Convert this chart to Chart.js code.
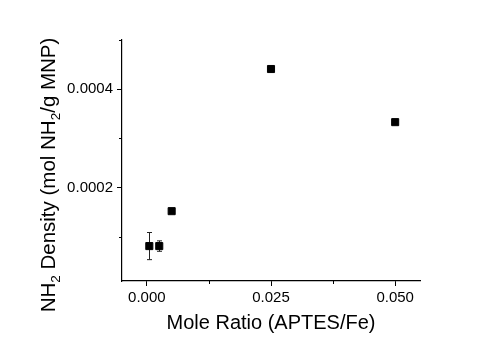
<!DOCTYPE html>
<html>
<head>
<meta charset="utf-8">
<script src="https://cdn.jsdelivr.net/npm/chart.js@4"></script>
<style>
  html, body { margin: 0; padding: 0; background: #fff; }
  #wrap { width: 500px; height: 344px; }
</style>
</head>
<body>
<div id="wrap"><canvas id="nh2-chart" width="500" height="344"></canvas></div>
<script>
// Data
const moleRatio = [0.0005, 0.0025, 0.005, 0.025, 0.05];
const nh2Density = [0.000081, 0.000081, 0.000152, 0.000441, 0.000333];
const nh2Error = [0.0000276, 0.0000106, 0, 0.000002, 0];

// Ticks (major ones get labels, the rest are minor)
const xTicks = [0, 0.0125, 0.025, 0.0375, 0.05];
const xMajor = [0, 0.025, 0.05];
const yTicks = [0.0001, 0.0002, 0.0003, 0.0004, 0.0005];
const yMajor = [0.0002, 0.0004];

const FONT = "'Liberation Sans', Arial, sans-serif";

function isMajor(list, v) {
    return list.some(m => Math.abs(m - v) < 1e-9);
}

// Error bars, drawn behind the square markers
const errorBars = {
    id: 'errorBars',
    beforeDatasetsDraw(chart) {
        const ctx = chart.ctx;
        const xs = chart.scales.x, ys = chart.scales.y;
        ctx.save();
        ctx.strokeStyle = '#222';
        ctx.lineWidth = 1;
        moleRatio.forEach((xv, i) => {
            if (!nh2Error[i]) return;
            const px = Math.round(xs.getPixelForValue(xv)) + 0.5;
            const top = ys.getPixelForValue(nh2Density[i] + nh2Error[i]);
            const bot = ys.getPixelForValue(nh2Density[i] - nh2Error[i]);
            ctx.beginPath();
            ctx.moveTo(px, top); ctx.lineTo(px, bot);
            ctx.moveTo(px - 2.5, top); ctx.lineTo(px + 2.5, top);
            ctx.moveTo(px - 2.5, bot); ctx.lineTo(px + 2.5, bot);
            ctx.stroke();
        });
        ctx.restore();
    }
};

// Short minor tick marks + y title with subscripts
const axisExtras = {
    id: 'axisExtras',
    afterDraw(chart) {
        const ctx = chart.ctx;
        const xs = chart.scales.x, ys = chart.scales.y;
        const area = chart.chartArea;
        ctx.save();
        ctx.strokeStyle = '#000';
        ctx.lineWidth = 1;
        ctx.beginPath();
        xTicks.filter(v => !isMajor(xMajor, v)).forEach(v => {
            const px = Math.round(xs.getPixelForValue(v)) + 0.5;
            ctx.moveTo(px, area.bottom); ctx.lineTo(px, area.bottom + 3);
        });
        yTicks.filter(v => !isMajor(yMajor, v)).forEach(v => {
            const py = Math.round(ys.getPixelForValue(v)) + 0.5;
            ctx.moveTo(area.left, py); ctx.lineTo(area.left - 3, py);
        });
        ctx.stroke();

        // y axis title: NH2 Density (mol NH2/g MNP)
        const parts = [
            ['NH', false], ['2', true], [' Density (mol NH', false], ['2', true], ['/g MNP)', false]
        ];
        const big = '20.5px ' + FONT, small = '13.5px ' + FONT;
        let total = 0;
        parts.forEach(p => { ctx.font = p[1] ? small : big; total += ctx.measureText(p[0]).width; });
        ctx.translate(55, 175);
        ctx.rotate(-Math.PI / 2);
        ctx.fillStyle = '#000';
        ctx.textBaseline = 'alphabetic';
        ctx.textAlign = 'left';
        let x = -total / 2;
        parts.forEach(p => {
            ctx.font = p[1] ? small : big;
            ctx.fillText(p[0], x, p[1] ? 4.5 : 0);
            x += ctx.measureText(p[0]).width;
        });
        ctx.restore();
    }
};

new Chart(document.getElementById('nh2-chart').getContext('2d'), {
    type: 'scatter',
    data: {
        datasets: [{
            label: 'NH2 density',
            data: moleRatio.map((x, i) => ({ x: x, y: nh2Density[i] })),
            pointStyle: 'rect',
            radius: 5,
            backgroundColor: '#000',
            borderColor: '#000',
            borderWidth: 1
        }]
    },
    options: {
        responsive: false,
        animation: false,
        devicePixelRatio: 1,
        layout: { padding: { top: 40, right: 80, left: 0, bottom: 0 } },
        plugins: { legend: { display: false }, tooltip: { enabled: false } },
        scales: {
            x: {
                type: 'linear',
                min: -0.005,
                max: 0.055,
                afterBuildTicks: s => { s.ticks = xTicks.map(v => ({ value: v })); },
                afterFit: s => { s.height = 63; },
                ticks: {
                    autoSkip: false,
                    maxRotation: 0,
                    padding: 3,
                    color: '#000',
                    font: { family: FONT, size: 15 },
                    callback: v => isMajor(xMajor, v) ? v.toFixed(3) : ''
                },
                grid: {
                    drawOnChartArea: false,
                    tickLength: 5,
                    tickColor: c => isMajor(xMajor, c.tick.value) ? '#000' : 'rgba(0,0,0,0)'
                },
                border: { color: '#000', width: 1.2 },
                title: {
                    display: true,
                    text: 'Mole Ratio (APTES/Fe)',
                    color: '#000',
                    font: { family: FONT, size: 20 },
                    padding: { top: 0, bottom: 9 }
                }
            },
            y: {
                type: 'linear',
                min: 0.00001,
                max: 0.0005,
                afterBuildTicks: s => { s.ticks = yTicks.map(v => ({ value: v })); },
                afterFit: s => { s.width = 122; },
                ticks: {
                    autoSkip: false,
                    padding: 4,
                    color: '#000',
                    font: { family: FONT, size: 15 },
                    callback: v => isMajor(yMajor, v) ? v.toFixed(4) : ''
                },
                grid: {
                    drawOnChartArea: false,
                    tickLength: 5,
                    tickColor: c => isMajor(yMajor, c.tick.value) ? '#000' : 'rgba(0,0,0,0)'
                },
                border: { color: '#000', width: 1.2 }
            }
        }
    },
    plugins: [errorBars, axisExtras]
});
</script>
</body>
</html>
